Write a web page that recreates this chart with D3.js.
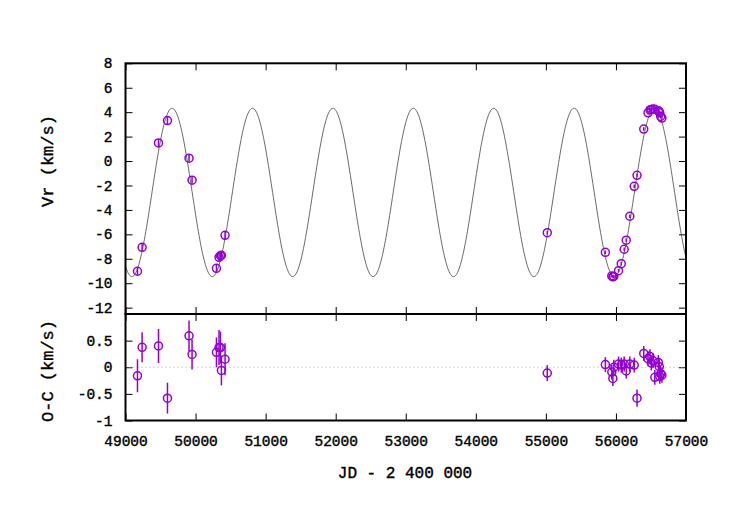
<!DOCTYPE html>
<html>
<head>
<meta charset="utf-8">
<script src="https://cdn.jsdelivr.net/npm/d3@7"></script>
<style>
  body { margin: 0; background: #fff; }
  text { font-family: "Liberation Mono", "Courier New", monospace; fill: #000; stroke: #000; stroke-width: 0.4px; }
</style>
</head>
<body>
<script>
"use strict";

// observations: JD - 2400000, radial velocity, O-C residual, error
const jd = [49171, 49237, 49471, 49599, 49907, 49950, 50298, 50335, 50355, 50369, 50421,
  55020, 55849, 55941, 55956, 55970, 56037, 56076, 56118, 56147, 56198, 56261, 56301, 56397,
  56458, 56486, 56505, 56529, 56555, 56605, 56619, 56626, 56639, 56656];
const vr = [-9.02, -7.06, 1.48, 3.31, 0.23, -1.57, -8.78, -7.88, -7.75, -7.71, -6.08,
  -5.86, -7.47, -9.40, -9.48, -9.45, -8.97, -8.40, -7.22, -6.48, -4.52, -2.07, -1.17, 2.62,
  3.95, 4.18, 4.22, 4.26, 4.24, 4.12, 4.02, 3.95, 3.65, 3.52];
const oc = [-0.16, 0.375, 0.40, -0.58, 0.59, 0.24, 0.28, 0.37, 0.37, -0.06, 0.15,
  -0.11, 0.05, -0.09, -0.21, 0.0, 0.06, 0.04, 0.06, -0.07, 0.06, 0.04, -0.58, 0.26,
  0.16, 0.20, 0.08, 0.12, -0.19, 0.09, 0.01, -0.17, -0.12, -0.15];
const err = [0.31, 0.28, 0.32, 0.29, 0.29, 0.28, 0.28, 0.33, 0.30, 0.28, 0.30,
  0.15, 0.14, 0.14, 0.14, 0.14, 0.14, 0.14, 0.14, 0.14, 0.14, 0.14, 0.16, 0.14,
  0.14, 0.14, 0.14, 0.14, 0.14, 0.14, 0.14, 0.14, 0.14, 0.14];

// fitted orbit: period (d), K (km/s), gamma (km/s), time of max velocity
const orbit = [1147.6, 6.89, -2.57, 56550.6];

const xTicks = [49000, 50000, 51000, 52000, 53000, 54000, 55000, 56000, 57000];
const vrTicks = [-12, -10, -8, -6, -4, -2, 0, 2, 4, 6, 8];
const ocTicks = [-1, -0.5, 0, 0.5];

const color = "#9400d3";
const W = 750, H = 525;
const mLeft = 125.5, mRight = 686, mTop = 63.3, mMid = 314, mBottom = 420.5;
const tick = 7;

const svg = d3.select("body").append("svg").attr("width", W).attr("height", H);

const x = d3.scaleLinear().domain([49000, 57000]).range([mLeft, mRight]);
const yTop = d3.scaleLinear().domain([-12.52, 8]).range([mMid, mTop]);
const yBot = d3.scaleLinear().domain([-1, 1]).range([mBottom, mMid]);

const fmt = (d) => String(d).replace("\u2212", "-");

function drawAxes(y, yt, y0, y1, showX) {
  const g = svg.append("g");
  g.append("g").attr("transform", `translate(${mLeft},0)`)
    .call(d3.axisLeft(y).tickValues(yt).tickSize(-tick).tickPadding(13).tickFormat(fmt));
  g.append("g").attr("transform", `translate(${mRight},0)`)
    .call(d3.axisRight(y).tickValues(yt).tickSize(-tick).tickFormat(""));
  g.append("g").attr("transform", `translate(0,${y0})`)
    .call(d3.axisBottom(x).tickValues(xTicks).tickSize(-tick).tickPadding(15)
      .tickFormat(showX ? fmt : ""));
  g.append("g").attr("transform", `translate(0,${y1})`)
    .call(d3.axisTop(x).tickValues(xTicks).tickSize(-tick).tickFormat(""));
  g.selectAll(".domain").remove();
  g.selectAll(".tick line").attr("stroke", "#000").attr("stroke-width", 1);
  g.selectAll(".tick text").style("font-size", "14.5px").attr("fill", "#000");
}

drawAxes(yTop, vrTicks, mMid, mTop, false);
drawAxes(yBot, ocTicks, mBottom, mMid, true);

// zero line in the residual panel
svg.append("line")
  .attr("x1", mLeft).attr("x2", mRight)
  .attr("y1", yBot(0)).attr("y2", yBot(0))
  .attr("stroke", "#aaa").attr("stroke-width", 1).attr("stroke-dasharray", "1,3");

// model curve
const [P, K, gamma, T0] = orbit;
const model = (t) => gamma + K * Math.cos(2 * Math.PI * (t - T0) / P);
const ts = d3.range(49000, 57000.1, 10);
svg.append("path")
  .datum(ts)
  .attr("fill", "none")
  .attr("stroke", "#444")
  .attr("stroke-width", 0.8)
  .attr("d", d3.line().x((t) => x(t)).y((t) => yTop(model(t))));

function drawPoints(y, vals) {
  const g = svg.append("g");
  const idx = d3.range(jd.length);
  g.selectAll("line").data(idx).enter().append("line")
    .attr("x1", (i) => x(jd[i])).attr("x2", (i) => x(jd[i]))
    .attr("y1", (i) => y(vals[i] - err[i])).attr("y2", (i) => y(vals[i] + err[i]))
    .attr("stroke", color).attr("stroke-width", 1.5);
  g.selectAll("circle").data(idx).enter().append("circle")
    .attr("cx", (i) => x(jd[i])).attr("cy", (i) => y(vals[i]))
    .attr("r", 4)
    .attr("fill", "none").attr("stroke", color).attr("stroke-width", 1.5);
}

drawPoints(yTop, vr);
drawPoints(yBot, oc);

// frames
svg.append("rect").attr("x", mLeft).attr("y", mTop).attr("width", mRight - mLeft).attr("height", mMid - mTop)
  .attr("fill", "none").attr("stroke", "#000").attr("stroke-width", 2);
svg.append("rect").attr("x", mLeft).attr("y", mMid).attr("width", mRight - mLeft).attr("height", mBottom - mMid)
  .attr("fill", "none").attr("stroke", "#000").attr("stroke-width", 2);

// axis titles
svg.append("text").attr("transform", "translate(53,161) rotate(-90)")
  .attr("text-anchor", "middle").style("font-size", "17px").text("Vr (km/s)");
svg.append("text").attr("transform", "translate(53,371) rotate(-90)")
  .attr("text-anchor", "middle").style("font-size", "17px").text("O-C (km/s)");
svg.append("text").attr("x", 405).attr("y", 478)
  .attr("text-anchor", "middle").style("font-size", "16px").text("JD - 2 400 000");
</script>
</body>
</html>
